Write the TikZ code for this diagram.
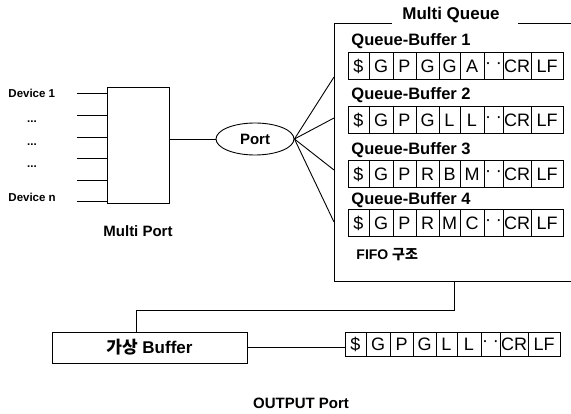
\documentclass[tikz,border=0pt]{standalone}
\usepackage{fontspec}
\setmainfont{Liberation Sans}
\newfontfamily\krfont{Noto Sans CJK KR}
\usetikzlibrary{shapes.geometric}

% one row of the queue buffer: name, x, y, cells 2..6
\newcommand{\qrow}[8]{%
  \foreach \a/\b/\t [count=\i] in {0/21/\$, 21/45/#4, 45/68/#5, 68/91/#6,
      91/112/#7, 112/136/#8, 136/155/{·\;·}, 155/183/CR, 183/215/LF}
  {\pgfmathsetmacro\cw{\b-\a}
   \node[cell, minimum width=\cw pt] (#1-\i) at ({#2+(\a+\b)/2}, #3) {\t};}%
}

\begin{document}
\begin{tikzpicture}[x=1pt, y=-1pt,
    line width=0.9pt,
    lbl/.style={font=\fontsize{15}{17}\selectfont\bfseries, inner sep=0pt},
    qlbl/.style={font=\fontsize{16.5}{18}\selectfont\bfseries, inner sep=0pt},
    small/.style={font=\fontsize{11.5}{13}\selectfont\bfseries, inner sep=0pt},
    cell/.style={draw, minimum height=27pt, inner sep=0pt,
                 font=\fontsize{18}{20}\selectfont},
    box/.style={draw, inner sep=0pt}
  ]
  \useasboundingbox (0,0) rectangle (571,414);

  % Multi Port
  \node[box, minimum width=62pt, minimum height=116pt] (mp) at (138,145) {};
  \foreach \y in {93,115,137,158,180,201}
    \draw (77,\y) -- (mp.west |- 0,\y);
  \node[small, anchor=west] (d1) at (8,93) {Device 1};
  \node[small] (dt1) at (32,122) {...};
  \node[small] (dt2) at (32,145) {...};
  \node[small] (dt3) at (32,167) {...};
  \node[small, anchor=west] (dn) at (8,197) {Device n};
  \node[lbl] (mplbl) at (138,231) {Multi Port};

  % Port
  \node[draw, ellipse, minimum width=78pt, minimum height=32pt, inner sep=0pt,
        lbl] (port) at (255,139) {Port};
  \draw (mp.east |- port) -- (port.west);

  % Multi Queue frame
  \node[lbl, font=\fontsize{17}{19}\selectfont\bfseries] (mqtitle) at (451,15) {Multi Queue};
  \coordinate (mqtl) at (334,23);
  \coordinate (mqbl) at (334,281);
  \draw (392,23) -- (mqtl) -- (mqbl) -- (571,281);
  \draw (518,23) -- (571,23);
  \foreach \y in {77,118,170,222}
    \draw (port.east) -- (334,\y);

  % queue buffers
  \node[qlbl, anchor=west] (qb1) at (351,41) {Queue-Buffer 1};
  \qrow{qa}{348}{66}{G}{P}{G}{G}{A}
  \node[qlbl, anchor=west] (qb2) at (351,95) {Queue-Buffer 2};
  \qrow{qb}{348}{120}{G}{P}{G}{L}{L}
  \node[qlbl, anchor=west] (qb3) at (351,150) {Queue-Buffer 3};
  \qrow{qc}{348}{174}{G}{P}{R}{B}{M}
  \node[qlbl, anchor=west] (qb4) at (351,200) {Queue-Buffer 4};
  \qrow{qd}{348}{223}{G}{P}{R}{M}{C}
  \node[lbl, anchor=west, font=\fontsize{14}{16}\selectfont\bfseries] (fifo) at (356,255)
       {FIFO {\krfont\bfseries 구조}};

  % virtual buffer and output
  \node[box, minimum width=195pt, minimum height=31pt, lbl,
        font=\fontsize{17}{19}\selectfont\bfseries] (buf) at (149.5,347.5)
       {{\krfont\bfseries 가상} Buffer};
  \coordinate (mqout) at (454,281);
  \coordinate (bend) at (136,310);
  \draw (mqout) |- (bend) -- (bend |- buf.north);
  \begin{scope}[cell/.append style={minimum height=24pt}]
    \qrow{out}{345}{344}{G}{P}{G}{L}{L}
  \end{scope}
  \draw (buf.east) -- (out-1.west |- buf.east);
  \node[lbl] (outlbl) at (301,403) {OUTPUT Port};
\end{tikzpicture}
\end{document}
